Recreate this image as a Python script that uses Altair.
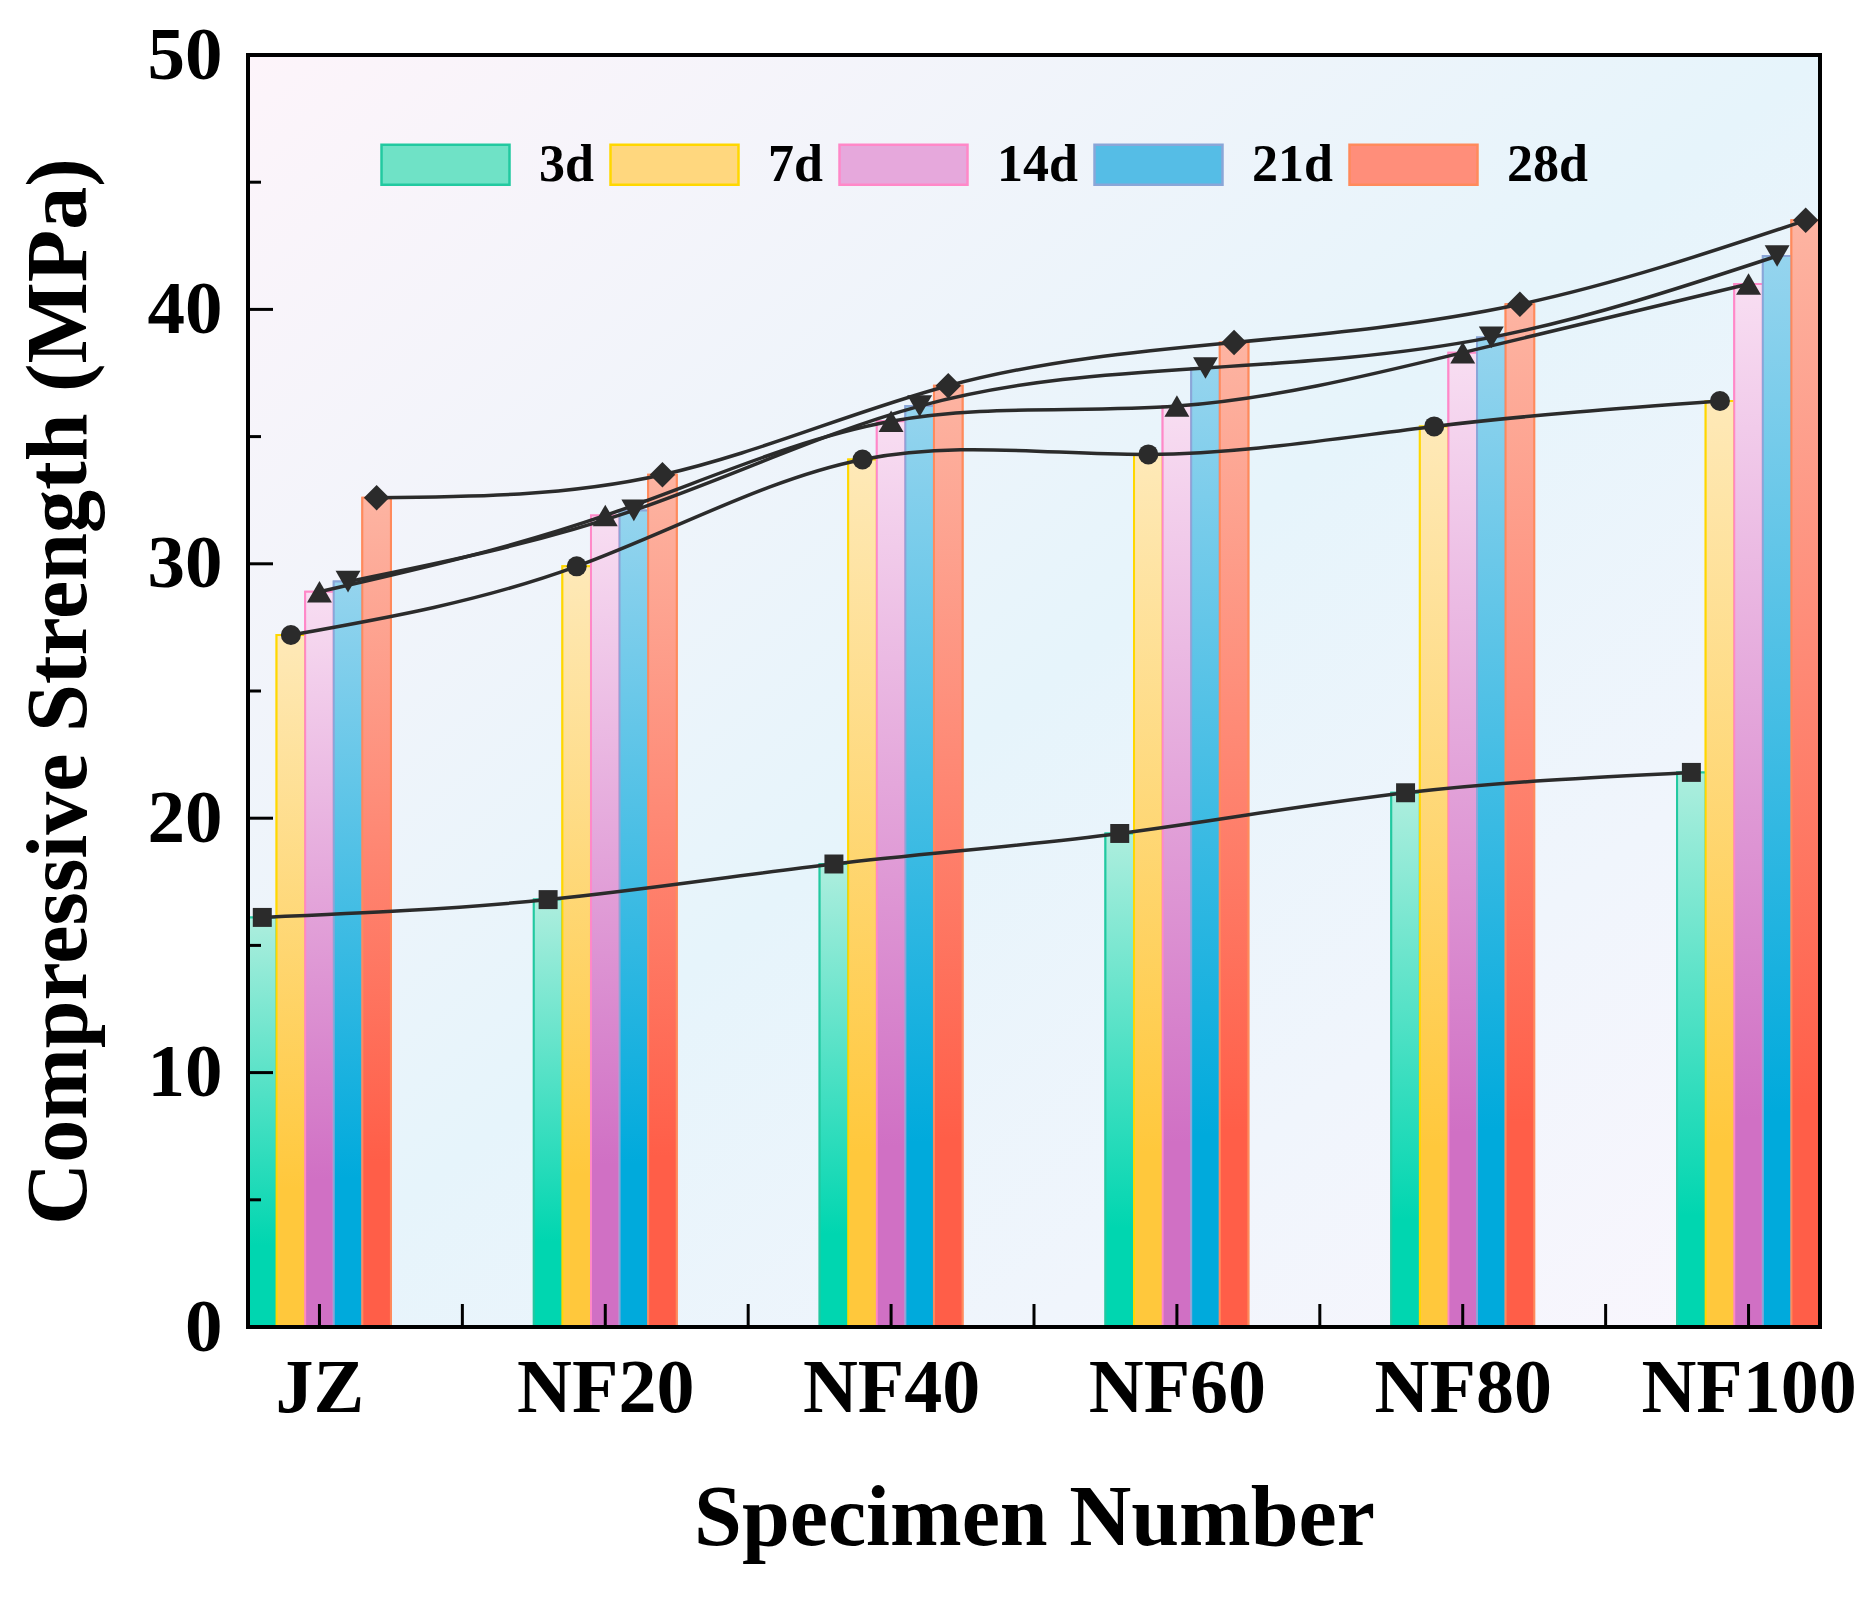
import json

import altair as alt
import pandas as pd

# data
specimens = ["JZ", "NF20", "NF40", "NF60", "NF80", "NF100"]
ages = ["3d", "7d", "14d", "21d", "28d"]
strength_3d = [16.1, 16.8, 18.2, 19.4, 21.0, 21.8]
strength_7d = [27.2, 29.9, 34.1, 34.3, 35.4, 36.4]
strength_14d = [28.9, 31.9, 35.6, 36.2, 38.3, 41.0]
strength_21d = [29.3, 32.1, 36.2, 37.7, 38.9, 42.1]
strength_28d = [32.6, 33.5, 37.0, 38.7, 40.2, 43.5]

y_major = [0, 10, 20, 30, 40, 50]
y_minor = [5, 15, 25, 35, 45]
x_ticks = [0, 0.5, 1, 1.5, 2, 2.5, 3, 3.5, 4, 4.5, 5]

# styling
light = ["#aeeede", "#fee9b8", "#f8def2", "#95d4ee", "#fdb4a2"]
solid = ["#00d6b0", "#ffc83c", "#d070c4", "#00aadc", "#ff5e48"]
edge = ["#22c9a0", "#ffd700", "#ff88c8", "#8aa6d8", "#ff8a5c"]
legend_fill = ["#6fe2c6", "#ffd77e", "#e6a8dc", "#55bde6", "#ff8e7a"]
shapes = ["square", "circle", "triangle-up", "triangle-down", "diamond"]
marker_sizes = [360, 400, 620, 620, 650]

FONT = "Liberation Serif"
W, H = 1572, 1272
BAR = 0.1

series = [strength_3d, strength_7d, strength_14d, strength_21d, strength_28d]
rows = []
for k, (age, vals) in enumerate(zip(ages, series)):
    off = (k - 2) * BAR
    for i, (spec, v) in enumerate(zip(specimens, vals)):
        rows.append({"specimen": spec, "age": age, "strength": v,
                     "xc": i + off, "xa": i + off - BAR / 2, "xb": i + off + BAR / 2})
df = pd.DataFrame(rows)

x_scale = alt.Scale(domain=[-0.25, 5.25], nice=False, zero=False)
y_scale = alt.Scale(domain=[0, 50], nice=False, zero=True)

x_axis = alt.Axis(values=list(range(len(specimens))),
                  labelExpr=f"{json.dumps(specimens)}[round(datum.value)]",
                  ticks=False, domain=False, grid=False, tickSize=0,
                  labelFont=FONT, labelFontSize=76, labelFontWeight="bold",
                  labelColor="black", labelPadding=24, labelFlush=False,
                  labelOverlap=False, labelLimit=500,
                  titleFont=FONT, titleFontSize=86, titleFontWeight="bold",
                  titleColor="black", titlePadding=50)
y_axis = alt.Axis(values=y_major, ticks=False, domain=False, grid=False, tickSize=0,
                  labelFont=FONT, labelFontSize=75, labelFontWeight="bold",
                  labelColor="black", labelPadding=26, labelFlush=False,
                  titleFont=FONT, titleFontSize=86, titleFontWeight="bold",
                  titleColor="black", titlePadding=44)

X_TITLE = "Specimen Number"
Y_TITLE = "Compressive Strength (MPa)"


def X(field):
    return alt.X(field, scale=x_scale, axis=x_axis, title=X_TITLE)


def Y(field):
    return alt.Y(field, scale=y_scale, axis=y_axis, title=Y_TITLE)


frame = pd.DataFrame({"a": [-0.25], "b": [5.25], "lo": [0], "hi": [50]})

# background panel with diagonal gradient
bg = alt.Chart(frame).mark_rect(
    fill={"gradient": "linear", "x1": 0, "y1": 0, "x2": 1, "y2": 1,
          "stops": [{"offset": 0, "color": "#fdf4fa"},
                    {"offset": 0.5, "color": "#e6f4fb"},
                    {"offset": 1, "color": "#faf6fd"}]},
    strokeWidth=0,
).encode(x=X("a:Q"), x2="b:Q", y=Y("lo:Q"), y2="hi:Q")

# frame around the plot area
border = alt.Chart(frame).mark_rect(
    fillOpacity=0, stroke="black", strokeWidth=4
).encode(x=X("a:Q"), x2="b:Q", y=Y("lo:Q"), y2="hi:Q")

# base bars carry the legend
legend = alt.Legend(orient="none", legendX=132, legendY=44, direction="horizontal",
                    columns=5, title=None,
                    symbolType="M-1,-0.3125H1V0.3125H-1Z", symbolSize=128 * 128,
                    symbolStrokeWidth=2.5, symbolOpacity=1,
                    labelFont=FONT, labelFontSize=52, labelFontWeight="bold",
                    labelColor="black", labelOffset=28, columnPadding=11,
                    labelLimit=300)
base = alt.Chart(df).mark_rect(strokeWidth=2).encode(
    x=X("xa:Q"), x2="xb:Q", y=Y("strength:Q"), y2=alt.datum(0),
    color=alt.Color("age:N", scale=alt.Scale(domain=ages, range=legend_fill), legend=legend),
    stroke=alt.Stroke("age:N", scale=alt.Scale(domain=ages, range=edge), legend=legend),
)

# gradient bars and markers, one layer per age
grad_layers = []
point_layers = []
for age, lc, sc, ec, shp, sz in zip(ages, light, solid, edge, shapes, marker_sizes):
    subset = alt.Chart(df).transform_filter(alt.datum.age == age)
    grad_layers.append(
        subset.mark_rect(
            fill={"gradient": "linear", "x1": 0, "y1": 0, "x2": 0, "y2": 1,
                  "stops": [{"offset": 0, "color": lc},
                            {"offset": 0.8, "color": sc},
                            {"offset": 1, "color": sc}]},
            stroke=ec, strokeWidth=2,
        ).encode(x=X("xa:Q"), x2="xb:Q", y=Y("strength:Q"), y2=alt.datum(0))
    )
    point_layers.append(
        subset.mark_point(filled=True, shape=shp, size=sz, color="#2b2b2b", opacity=1).encode(
            x=X("xc:Q"), y=Y("strength:Q"))
    )

lines = alt.Chart(df).mark_line(interpolate="natural", color="#2b2b2b", strokeWidth=3.5).encode(
    x=X("xc:Q"), y=Y("strength:Q"), detail="age:N"
)

# inward ticks
y_major_ticks = alt.Chart(pd.DataFrame({"v": y_major})).mark_rule(color="black", strokeWidth=3).encode(
    y=Y("v:Q"), x=alt.value(0), x2=alt.value(25))
y_minor_ticks = alt.Chart(pd.DataFrame({"v": y_minor})).mark_rule(color="black", strokeWidth=3).encode(
    y=Y("v:Q"), x=alt.value(0), x2=alt.value(13))
x_tick_marks = alt.Chart(pd.DataFrame({"v": x_ticks})).mark_rule(color="black", strokeWidth=3).encode(
    x=X("v:Q"), y=alt.value(H), y2=alt.value(H - 23))

chart = alt.layer(bg, base, *grad_layers, lines, *point_layers,
                  y_major_ticks, y_minor_ticks, x_tick_marks, border).resolve_scale(
    color="independent", stroke="independent"
).properties(
    width=W, height=H,
    padding={"left": 8, "top": 10, "right": 2, "bottom": 5},
).configure_view(
    strokeWidth=0
).configure(background="white")

chart.save("out.html", embed_options={"renderer": "svg", "actions": False})
